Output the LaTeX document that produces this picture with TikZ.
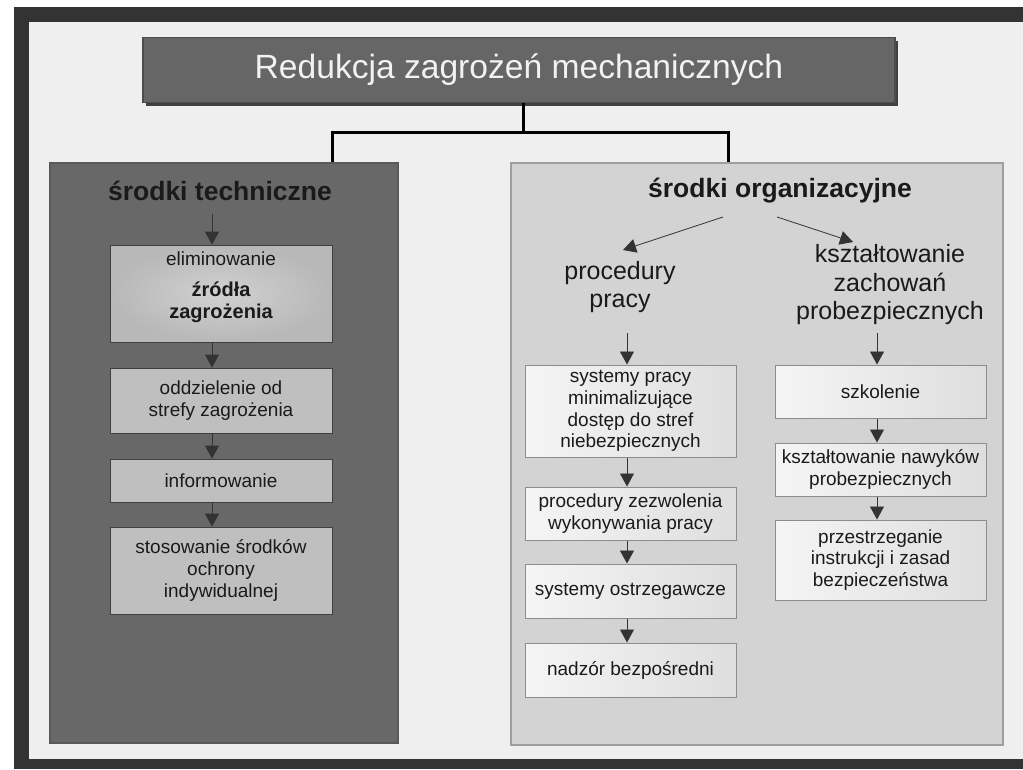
\documentclass[tikz,border=0pt]{standalone}
\usepackage{fontspec}
\setmainfont{Liberation Sans}
\usetikzlibrary{arrows.meta,calc,shadows}
\definecolor{bgc}{HTML}{EFEFEF}
\definecolor{framec}{HTML}{333333}
\definecolor{titlec}{HTML}{666666}
\definecolor{leftpc}{HTML}{686868}
\definecolor{rightpc}{HTML}{D3D3D3}
\definecolor{lboxc}{HTML}{BFBFBF}
\definecolor{txtc}{HTML}{1A1A1A}
\newcommand\fsbox{\fontsize{19}{21.8}\selectfont}
\newcommand\fsboxb{\fontsize{20}{25}\selectfont\bfseries}
\newcommand\fshead{\fontsize{26.5}{30}\selectfont\bfseries}
\newcommand\fssub{\fontsize{25}{28.5}\selectfont}
\newcommand\fstitle{\fontsize{33.6}{38}\selectfont}
\begin{document}
\begin{tikzpicture}[x=1pt,y=-1pt,
  panel/.style={rectangle, inner sep=0pt, line width=1.2pt},
  lbox/.style={rectangle, draw=black!75, line width=0.8pt, fill=lboxc, minimum width=222pt, inner sep=0pt, align=center, font=\fsbox, text=txtc},
  rbox/.style={rectangle, draw=black!45, line width=1pt, left color=white!96!black, right color=white!87!black, minimum width=211pt, inner sep=0pt, align=center, font=\fsbox, text=txtc},
  arr/.style={draw=black!80, line width=0.8pt, -{Triangle[width=14pt,length=13pt]}},
  conn/.style={draw=black, line width=3pt},
]
\useasboundingbox (0,0) rectangle (1023,769);
% frame
\fill[white] (0,0) rectangle (1023,769);
\fill[framec] (14,7) rectangle (1023,769);
\fill[bgc] (29,22) rectangle (1023,759);

% title
\node[panel, fill=titlec, draw=black!70, minimum width=752pt, minimum height=65pt,
  drop shadow={shadow xshift=3pt, shadow yshift=-3pt, fill=black!75, opacity=1},
  text=white!95!black, font=\fstitle] (title) at (519,70) {Redukcja zagrożeń mechanicznych};

% panels
\node[panel, fill=leftpc, draw=black!65, minimum width=348pt, minimum height=580pt] (lp) at (224,453) {};
\node[panel, fill=rightpc, draw=black!38, minimum width=492pt, minimum height=582pt] (rp) at (757,454) {};

% connectors from title
\coordinate (jn) at (523,132);
\coordinate (jl) at (332,0);
\coordinate (jr) at (728,0);
\draw[conn] (title.south -| jn) -- (jn);
\draw[conn] (lp.north -| jl) |- (jn) -| (rp.north -| jr);

% left panel
\node[font=\fshead, text=txtc] (lh) at (220,191) {środki techniczne};
\coordinate (lx) at (212,0);
\node[lbox, minimum height=97pt, inner color=white!82!black, outer color=white!72!black] (b1) at (221,293.5) {};
\node[align=center, text=txtc, inner sep=0pt, font=\fsbox] (b1t) at (221,287) {eliminowanie\\[9pt]\fsboxb źródła\\\fsboxb zagrożenia};
\node[lbox, minimum height=65pt] (b2) at (221,400.5) {oddzielenie od\\strefy zagrożenia};
\node[lbox, minimum height=43pt] (b3) at (221,480.5) {informowanie};
\node[lbox, minimum height=87pt] (b4) at (221,570.5) {stosowanie środków\\ochrony\\indywidualnej};
\coordinate (la) at (212,214);
\draw[arr] (la) -- (b1.north -| lx);
\draw[arr] (b1.south -| lx) -- (b2.north -| lx);
\draw[arr] (b2.south -| lx) -- (b3.north -| lx);
\draw[arr] (b3.south -| lx) -- (b4.north -| lx);

% right panel
\node[font=\fshead, text=txtc] (rh) at (780,191) {środki organizacyjne};
\node[font=\fssub, align=center, text=txtc] (pp) at (620,287) {procedury\\pracy};
\node[font=\fssub, align=center, text=txtc] (kz) at (890,285) {kształtowanie\\zachowań\\probezpiecznych};
\coordinate (ra1) at (723,217);
\coordinate (ra2) at (623,250);
\coordinate (ra3) at (777,217);
\coordinate (ra4) at (853,242);
\draw[arr] (ra1) -- (ra2);
\draw[arr] (ra3) -- (ra4);

\coordinate (px) at (627,0);
\coordinate (sx) at (877,0);
\node[rbox, minimum height=92pt] (r1) at (630.5,411) {systemy pracy\\minimalizujące\\dostęp do stref\\niebezpiecznych};
\node[rbox, minimum height=53pt] (r2) at (630.5,513.5) {procedury zezwolenia\\wykonywania pracy};
\node[rbox, minimum height=54pt] (r3) at (630.5,591) {systemy ostrzegawcze};
\node[rbox, minimum height=54pt] (r4) at (630.5,670) {nadzór bezpośredni};
\node[rbox, minimum height=53pt] (s1) at (880.5,391.5) {szkolenie};
\node[rbox, minimum height=53pt] (s2) at (880.5,469.5) {kształtowanie nawyków\\probezpiecznych};
\node[rbox, minimum height=80pt] (s3) at (880.5,560) {przestrzeganie\\instrukcji i zasad\\bezpieczeństwa};
\coordinate (pa) at (627,333);
\coordinate (sa) at (877,333);
\draw[arr] (pa) -- (r1.north -| px);
\draw[arr] (r1.south -| px) -- (r2.north -| px);
\draw[arr] (r2.south -| px) -- (r3.north -| px);
\draw[arr] (r3.south -| px) -- (r4.north -| px);
\draw[arr] (sa) -- (s1.north -| sx);
\draw[arr] (s1.south -| sx) -- (s2.north -| sx);
\draw[arr] (s2.south -| sx) -- (s3.north -| sx);
\end{tikzpicture}
\end{document}
